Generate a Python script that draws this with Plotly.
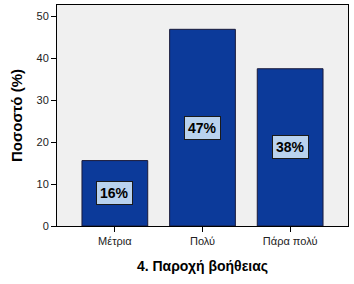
import plotly.graph_objects as go

categories = ["Μέτρια", "Πολύ", "Πάρα πολύ"]
values = [15.6, 46.9, 37.5]
labels = ["16%", "47%", "38%"]
y_ticks = [0, 10, 20, 30, 40, 50]

fig = go.Figure()
fig.add_trace(go.Bar(
    x=categories, y=values, width=0.75,
    marker=dict(color="#0C3A9A", line=dict(color="#1a1a3a", width=1)),
    hoverinfo="skip",
))

for c, v, t in zip(categories, values, labels):
    fig.add_annotation(
        x=c, y=v / 2, text="<b>" + t + "</b>", showarrow=False,
        font=dict(family="Liberation Sans, Arial", size=14, color="black"),
        bgcolor="#B9D2EE", bordercolor="#1a1a1a", borderwidth=1, borderpad=3,
    )

fig.update_layout(
    width=354, height=284,
    margin=dict(l=57, r=6, t=5, b=58),
    paper_bgcolor="white", plot_bgcolor="#F0F0F0",
    showlegend=False,
    font=dict(family="Liberation Sans, Arial", size=11, color="#222"),
    xaxis=dict(
        range=[-0.66, 2.66], showgrid=False, ticks="outside", ticklen=5,
        tickcolor="black", showline=True, linecolor="black", linewidth=1, mirror=True,
        title=dict(text="<b>4. Παροχή βοήθειας</b>", font=dict(size=14, color="black"), standoff=14),
    ),
    yaxis=dict(
        range=[0, 52.7], tickvals=y_ticks, showgrid=False, zeroline=False,
        ticks="outside", ticklen=5, tickcolor="black",
        showline=True, linecolor="black", linewidth=1, mirror=True,
        title=dict(text="<b>Ποσοστό (%)</b>", font=dict(size=15, color="black"), standoff=10),
    ),
)

fig.write_html("out.html")
